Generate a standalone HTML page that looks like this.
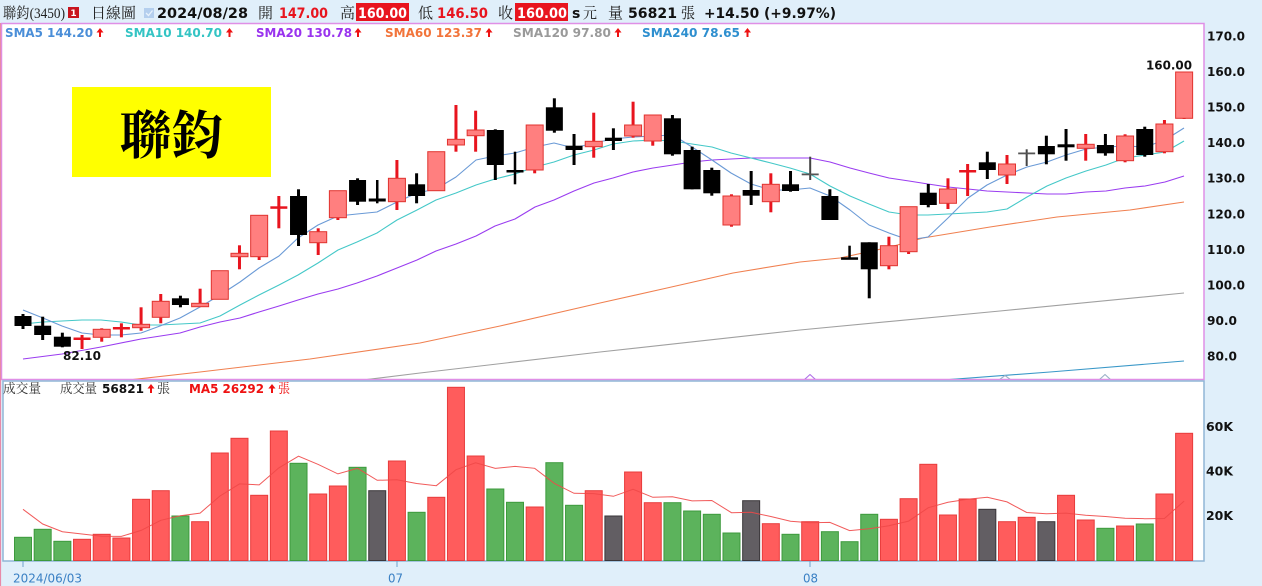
<!DOCTYPE html>
<html><head><meta charset="utf-8">
<style>
html,body{margin:0;padding:0;background:#e0effa;overflow:hidden;}
svg{display:block;}
text{font-family:"DejaVu Sans","Liberation Sans",sans-serif;}
.cj{font-family:"Liberation Serif","Noto Serif CJK SC",serif;}
.b{font-weight:bold;}
</style></head><body>
<svg id="s" width="1262" height="586" viewBox="0 0 1262 586" xmlns="http://www.w3.org/2000/svg">
<rect x="0" y="0" width="1262" height="586" fill="#e0effa"/>
<!-- header -->
<text class="cj" x="3" y="18" font-size="15" fill="#222" textLength="62" lengthAdjust="spacingAndGlyphs">聯鈞(3450)</text>
<rect x="68" y="7" width="11" height="11" fill="#c8141e"/>
<text x="73.5" y="16" font-size="9" class="b" fill="#fff" text-anchor="middle">1</text>
<text class="cj" x="91" y="18" font-size="15" fill="#222" textLength="45" lengthAdjust="spacingAndGlyphs">日線圖</text>
<rect x="144" y="8" width="10" height="10" fill="#b4cfee"/>
<path d="M146,13 l2.5,2.5 l4,-5" stroke="#e8f2fc" stroke-width="1.3" fill="none"/>
<text class="b" x="157" y="18" font-size="14" fill="#111" textLength="91" lengthAdjust="spacingAndGlyphs">2024/08/28</text>
<text class="cj" x="258" y="18" font-size="15" fill="#222" textLength="15" lengthAdjust="spacingAndGlyphs">開</text>
<text class="b" x="279" y="18" font-size="14" fill="#e8141e" textLength="49" lengthAdjust="spacingAndGlyphs">147.00</text>
<text class="cj" x="340" y="18" font-size="15" fill="#222" textLength="15" lengthAdjust="spacingAndGlyphs">高</text>
<rect x="356" y="3" width="53" height="18" fill="#e8141e"/>
<text class="b" x="358" y="18" font-size="14" fill="#fff" textLength="49" lengthAdjust="spacingAndGlyphs">160.00</text>
<text class="cj" x="418" y="18" font-size="15" fill="#222" textLength="15" lengthAdjust="spacingAndGlyphs">低</text>
<text class="b" x="437" y="18" font-size="14" fill="#e8141e" textLength="51" lengthAdjust="spacingAndGlyphs">146.50</text>
<text class="cj" x="498" y="18" font-size="15" fill="#222" textLength="15" lengthAdjust="spacingAndGlyphs">收</text>
<rect x="515" y="3" width="53" height="18" fill="#e8141e"/>
<text class="b" x="517" y="18" font-size="14" fill="#fff" textLength="50" lengthAdjust="spacingAndGlyphs">160.00</text>
<text class="b" x="572" y="18" font-size="14" fill="#111">s</text>
<text class="cj" x="583" y="18" font-size="15" fill="#222" textLength="14" lengthAdjust="spacingAndGlyphs">元</text>
<text class="cj" x="608" y="18" font-size="15" fill="#222" textLength="15" lengthAdjust="spacingAndGlyphs">量</text>
<text class="b" x="628" y="18" font-size="14" fill="#111" textLength="49" lengthAdjust="spacingAndGlyphs">56821</text>
<text class="cj" x="681" y="18" font-size="15" fill="#222" textLength="14" lengthAdjust="spacingAndGlyphs">張</text>
<text class="b" x="704" y="18" font-size="14" fill="#111" textLength="132" lengthAdjust="spacingAndGlyphs">+14.50 (+9.97%)</text>

<!-- price panel -->
<rect x="1.5" y="23.5" width="1202.5" height="356" fill="#fff" stroke="#df8fe6" stroke-width="1.5"/>
<line x1="0.5" y1="23" x2="0.5" y2="586" stroke="#e88aa8" stroke-width="1.2"/>
<!-- volume panel -->
<rect x="3" y="381" width="1201" height="180" fill="#fff" stroke="#90b6d6" stroke-width="1.5"/>

<!-- yellow title box -->
<rect x="72" y="87" width="199" height="90" fill="#ffff00"/>
<text class="cj b" x="171.5" y="154" font-size="52" fill="#000" text-anchor="middle" textLength="104" lengthAdjust="spacingAndGlyphs">聯鈞</text>

<!-- SMA legend -->
<text class="b" x="5" y="37" font-size="12" fill="#4a8ed8" textLength="88" lengthAdjust="spacingAndGlyphs">SMA5 144.20</text>
<text class="b" x="125" y="37" font-size="12" fill="#33c4c4" textLength="97" lengthAdjust="spacingAndGlyphs">SMA10 140.70</text>
<text class="b" x="256" y="37" font-size="12" fill="#9933ee" textLength="96" lengthAdjust="spacingAndGlyphs">SMA20 130.78</text>
<text class="b" x="385" y="37" font-size="12" fill="#f2743a" textLength="97" lengthAdjust="spacingAndGlyphs">SMA60 123.37</text>
<text class="b" x="513" y="37" font-size="12" fill="#9a9a9a" textLength="98" lengthAdjust="spacingAndGlyphs">SMA120 97.80</text>
<text class="b" x="642" y="37" font-size="12" fill="#2e8fcf" textLength="98" lengthAdjust="spacingAndGlyphs">SMA240 78.65</text>

<!-- volume legend -->
<text class="cj" x="3" y="393" font-size="13" fill="#333" textLength="38" lengthAdjust="spacingAndGlyphs">成交量</text>
<text class="cj" x="60" y="393" font-size="13" fill="#333" textLength="37" lengthAdjust="spacingAndGlyphs">成交量</text>
<text class="b" x="102" y="393" font-size="12" fill="#111" textLength="42" lengthAdjust="spacingAndGlyphs">56821</text>
<text class="cj" x="157" y="393" font-size="13" fill="#333" textLength="13" lengthAdjust="spacingAndGlyphs">張</text>
<text class="b" x="189" y="393" font-size="12" fill="#ee1111" textLength="75" lengthAdjust="spacingAndGlyphs">MA5 26292</text>
<text class="cj" x="278" y="393" font-size="13" fill="#ee1111" textLength="12" lengthAdjust="spacingAndGlyphs">張</text>

<!-- right price axis -->
<g class="b" font-size="12" fill="#111" font-weight="bold">
<text x="1207" y="40.3" textLength="38" lengthAdjust="spacingAndGlyphs">170.0</text>
<text x="1207" y="75.9" textLength="38" lengthAdjust="spacingAndGlyphs">160.0</text>
<text x="1207" y="111.5" textLength="38" lengthAdjust="spacingAndGlyphs">150.0</text>
<text x="1207" y="147.1" textLength="38" lengthAdjust="spacingAndGlyphs">140.0</text>
<text x="1207" y="182.7" textLength="38" lengthAdjust="spacingAndGlyphs">130.0</text>
<text x="1207" y="218.3" textLength="38" lengthAdjust="spacingAndGlyphs">120.0</text>
<text x="1207" y="253.9" textLength="38" lengthAdjust="spacingAndGlyphs">110.0</text>
<text x="1207" y="289.5" textLength="38" lengthAdjust="spacingAndGlyphs">100.0</text>
<text x="1207" y="325.1" textLength="30" lengthAdjust="spacingAndGlyphs">90.0</text>
<text x="1207" y="360.7" textLength="30" lengthAdjust="spacingAndGlyphs">80.0</text>
<text x="1206" y="431" textLength="27" lengthAdjust="spacingAndGlyphs">60K</text>
<text x="1206" y="475.5" textLength="27" lengthAdjust="spacingAndGlyphs">40K</text>
<text x="1206" y="520" textLength="27" lengthAdjust="spacingAndGlyphs">20K</text>
</g>

<!-- bottom axis -->
<g stroke="#6ea0cc" stroke-width="1">
<line x1="23" y1="561" x2="23" y2="567"/>
<line x1="397" y1="561" x2="397" y2="567"/>
<line x1="810" y1="561" x2="810" y2="567"/>
</g>
<text x="13" y="582.5" font-size="12.5" fill="#3a80c4" textLength="69" lengthAdjust="spacingAndGlyphs">2024/06/03</text>
<text x="388" y="582.5" font-size="12.5" fill="#3a80c4" textLength="15" lengthAdjust="spacingAndGlyphs">07</text>
<text x="803" y="582.5" font-size="12.5" fill="#3a80c4" textLength="15" lengthAdjust="spacingAndGlyphs">08</text>

<defs><clipPath id="pc"><rect x="2" y="24" width="1201" height="355"/></clipPath></defs>
<g clip-path="url(#pc)" fill="none" stroke-width="1.1" stroke-linejoin="round">
<polyline stroke="#f08050" points="120,381 200,372 310,359 420,343 500,326 600,303 667,288 733,273 800,262 840,258 890,247 923,238 990,227 1057,217 1130,210 1184,202"/>
<polyline stroke="#a0a0a0" points="355,381 420,373 600,352 800,330 1000,311 1184,293"/>
<polyline stroke="#3a98c8" points="930,381 1050,372 1184,361"/>
<polyline stroke="#9a3cf0" points="23,359 62,354 101,347 141,339 180,333 200,327 220,322 240,318 259,312 279,306 298,300 318,294 338,289 357,283 377,276 397,268 417,260 436,251 456,244 476,236 495,226 515,219 535,207 554,200 574,191 594,183 613,178 633,172 653,168 673,165 692,162 712,160 731,159 751,158 771,158 790,158 810,158 830,162 850,168 869,173 889,178 909,181 928,184 948,187 968,189 987,191 1007,192 1027,193 1047,194 1066,194 1086,192 1106,191 1125,188 1145,186 1165,182 1184,176"/>
<polyline stroke="#44c8c8" points="23,324 43,322 62,321 82,320 101,320 121,322 141,325 160,325 180,324 200,323 220,316 240,305 259,295 279,285 298,275 318,263 338,250 357,242 377,233 397,220 417,210 436,200 456,193 476,185 495,179 515,174 535,167 554,162 574,155 594,150 613,144 633,141 653,140 673,141 692,144 712,147 731,153 751,158 771,163 790,168 810,174 830,186 850,196 869,204 889,212 909,215 928,215 948,214 968,213 987,212 1007,209 1027,197 1047,186 1066,178 1086,171 1106,165 1125,158 1145,155 1165,152 1184,141"/>
<polyline stroke="#6a9ad6" points="23,310 43,318 62,326 82,333 101,335 121,335 141,333 160,326 180,318 200,307 220,295 240,282 259,268 279,256 298,238 318,225 338,216 357,214 377,212 397,202 417,193 436,189 456,177 476,160 495,156 515,153 535,147 554,143 574,148 594,143 613,139 633,137 653,136 673,135 692,147 712,160 731,173 751,184 771,190 790,190 810,188 830,196 850,210 869,225 889,233 909,240 928,237 948,218 968,198 987,185 1007,175 1027,167 1047,162 1066,155 1086,149 1106,147 1125,146 1145,147 1165,140 1184,128"/>
<polyline stroke="#b070e8" points="804,380 810,374.5 816,380"/>
<polyline stroke="#9ab0c8" points="999,380 1005,375.5 1011,380"/>
<polyline stroke="#9ab0c8" points="1099,380 1105,374.5 1111,380"/>
</g>
<g id="cg"></g>
<g id="vg"></g>
<g id="ag"></g>
<text class="b" x="1146" y="69.5" font-size="12" fill="#111" textLength="46" lengthAdjust="spacingAndGlyphs">160.00</text>
<text class="b" x="63" y="360" font-size="12" fill="#111" textLength="38" lengthAdjust="spacingAndGlyphs">82.10</text>
</svg>
<script>
(function(){
var NS="http://www.w3.org/2000/svg";
function el(t,a,p){var e=document.createElementNS(NS,t);for(var k in a)e.setAttribute(k,a[k]);p.appendChild(e);return e;}
var X=function(i){return 23+i*19.68;};
var cg=document.getElementById('cg'),vg=document.getElementById('vg'),ag=document.getElementById('ag');
var C=[
['d',316,326,314,329],['d',325.7,335,316.7,340],['d',336.7,346.7,332.7,347.3],['r',337.5,339.5,335,349],
['u',329.3,337.3,328.3,341.7],['r',327,329,323.3,337.3],['u',324.3,327.7,307.3,330.7],['u',301.3,317.3,294,323.3],
['d',298.3,305,295.7,307.3],['u',303.3,306.7,288.7,306.7],['u',270.7,299.3,270.7,299.3],['u',253.3,256.7,245.3,269.3],
['u',215.3,256.7,215.3,260],['r',206.3,208.7,196,228.3],['d',196,235,189.3,246],['u',231.7,242.7,228.3,255],
['u',190.7,217.7,190.7,220],['d',180,201.7,178.3,205],['k',198.5,201.5,180,203.3],['u',178.3,201.7,160,210],
['d',184.3,196,173.3,203.3],['u',151.7,190.7,151.7,190.7],['u',139.3,145,105,151.7],['u',130,135.7,110.7,151.7],
['d',130,165,129.3,180],['k',170,171.7,151.7,184.3],['u',125,170,125,173.3],['d',107.3,130.7,98.3,132.7],
['d',145.7,150,134,165],['u',141.3,146.7,112.7,157.7],['d',137.7,141,128.3,150],['u',125,136,101.7,137.7],
['u',115,141,115,145.7],['d',118.3,154.3,115,155.7],['d',150,189.3,146.7,189.3],['d',170,193.3,167.7,195.7],
['u',196,225,194.3,226.7],['d',190,195.7,171,205],['u',184.3,201.7,173.3,212.3],['d',184.3,191,171,191.7],
['g',173.5,175,156.7,180],['d',196,220,189.3,220],['k',257.3,259.3,245.7,259.3],['d',242.3,269.3,242.3,298.3],
['u',245.7,265.7,236.7,269.3],['u',206.7,251.7,206.7,254],['d',192.7,205,184,207.3],['u',189,203.3,178.3,209],
['r',170,171.7,164,196],['d',162.3,170,151.7,179],['u',164,175,155,184],['g',152.5,154,149.3,166],
['d',146,154.3,135.7,164.3],['d',144.3,147.3,129,160.7],['u',144.3,148.3,134,160.7],['d',145,153.3,134,155.7],
['u',136,160.7,134.3,162.3],['d',129,155,126.7,156.7],['u',124,151.7,120,153.3],['u',72,118.3,72,119]];
var RED='#e8141e';
C.forEach(function(c,i){
  var x=X(i),t=c[0],bt=c[1],bb=c[2],wt=c[3],wb=c[4];
  var wc=(t==='u'||t==='r')?RED:(t==='g'?'#444':'#000');
  var ww=(t==='g')?2:(t==='k'?2.5:3);
  if(wb-wt>0.5) el('rect',{x:x-ww/2,y:wt,width:ww,height:wb-wt,fill:wc},cg);
  if(t==='u'){
    el('rect',{x:x-8.5,y:bt,width:17,height:Math.max(2,bb-bt),fill:'#ff7f7f',stroke:'#e0332f','stroke-width':1},cg);
  }else if(t==='d'){
    el('rect',{x:x-8.5,y:bt,width:17,height:Math.max(2.5,bb-bt),fill:'#000'},cg);
  }else if(t==='r'){
    el('rect',{x:x-8.5,y:bt,width:17,height:Math.max(2.5,bb-bt),fill:RED},cg);
  }else if(t==='k'){
    el('rect',{x:x-8.5,y:bt,width:17,height:Math.max(2.5,bb-bt),fill:'#000'},cg);
  }else{
    el('rect',{x:x-8.5,y:bt,width:17,height:Math.max(1.8,bb-bt),fill:'#555'},cg);
  }
});
var V=[['g',537.3],['g',529.3],['g',541.3],['r',539.3],['r',534.3],['r',538],['r',499.3],['r',490.7],['g',516],['r',521.7],
['r',453],['r',438.3],['r',495.3],['r',431],['g',463.3],['r',494],['r',486],['g',467.3],['k',490.7],['r',461],
['g',512.3],['r',497.3],['r',387.3],['r',456],['g',489],['g',502.3],['r',507],['g',462.7],['g',505.3],['r',490.7],
['k',516],['r',472],['r',502.7],['g',502.7],['g',511],['g',514.3],['g',533],['k',500.7],['r',523.7],['g',534.3],
['r',521.7],['g',531.7],['g',541.7],['g',514.3],['r',519.3],['r',498.7],['r',464.3],['r',515],['r',499],['k',509.3],
['r',521.7],['r',517.3],['k',521.7],['r',495.3],['r',520],['g',528.3],['r',526],['g',524],['r',494],['r',433.3]];
var col={r:['#ff5c5c','#e83c3c'],g:['#5cb35c','#3d9a3d'],k:['#625e63','#3a363a']};
var B=560.5;
V.forEach(function(v,i){
  var x=X(i);
  el('rect',{x:x-8.5,y:v[1],width:17,height:B-v[1],fill:col[v[0]][0],stroke:col[v[0]][1],'stroke-width':1},vg);
});
var H=V.map(function(v){return 560-v[1];});
var pts=[];
var first=[509.3,524,531.7,534];
for(var i=0;i<60;i++){
  var y;
  if(i<4){y=first[i];}
  else{var s=0;for(var j=i-4;j<=i;j++)s+=H[j];y=560-s/5;}
  pts.push(X(i).toFixed(1)+','+y.toFixed(1));
}
el('polyline',{points:pts.join(' '),fill:'none',stroke:'#f04848','stroke-width':1,'stroke-opacity':0.9},vg);
function arrow(cx,y0,y1){
  el('path',{d:'M'+(cx-3.5)+','+(y0+4.5)+' L'+cx+','+y0+' L'+(cx+3.5)+','+(y0+4.5)+' Z M'+(cx-1)+','+(y0+3.5)+' h2 V'+y1+' h-2 Z',fill:'#ee1111'},ag);
}
[100,229.5,358,489,618,747.5].forEach(function(c){arrow(c,28,37);});
arrow(151,384,393);arrow(272,384,393);
})();
</script>
</body></html>
